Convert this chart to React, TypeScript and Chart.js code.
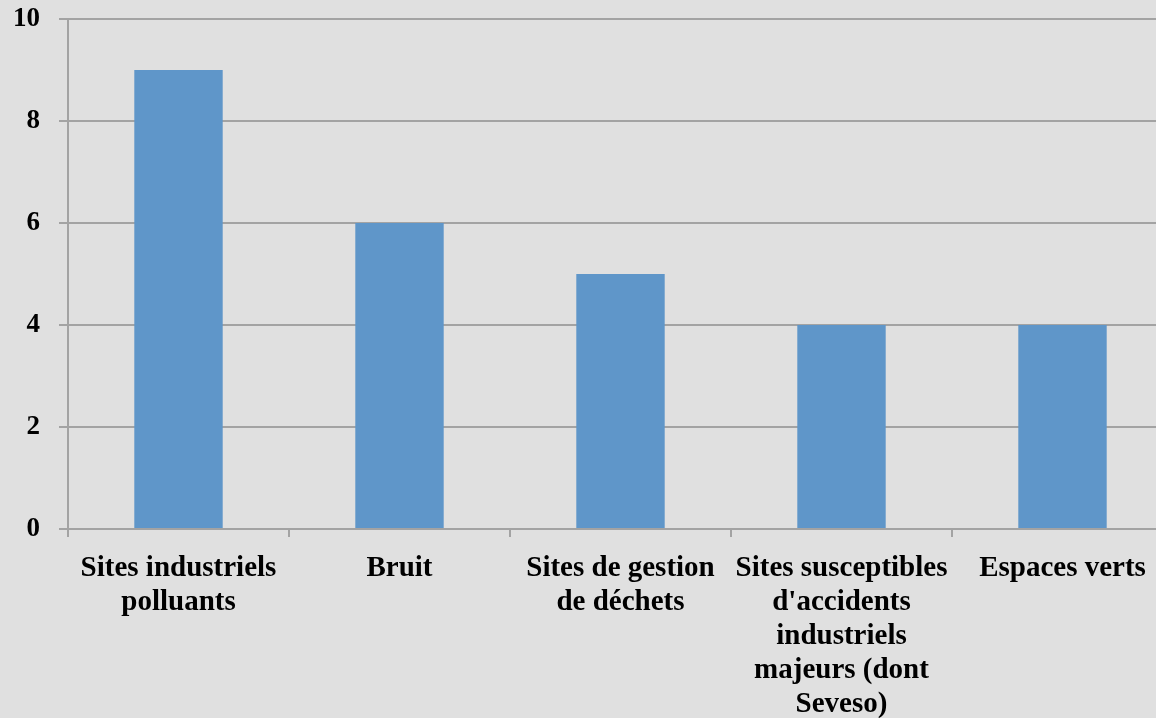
import React, { useEffect, useRef } from "react";
import { Chart, registerables } from "chart.js";

Chart.register(...registerables);

const categories: (string | string[])[] = [
  ["Sites industriels", "polluants"],
  "Bruit",
  ["Sites de gestion", "de déchets"],
  ["Sites susceptibles", "d'accidents", "industriels", "majeurs (dont", "Seveso)"],
  "Espaces verts",
];
const values: number[] = [9, 6, 5, 4, 4];
const yTicks: number[] = [0, 2, 4, 6, 8, 10];

const BG = "#e0e0e0";
const BAR = "#5f96c9";
const GRID = "#a3a3a3";
const FONT = "'Liberation Serif', 'Times New Roman', serif";

export default function App() {
  const ref = useRef<HTMLCanvasElement | null>(null);

  useEffect(() => {
    if (!ref.current) return;
    const chart = new Chart(ref.current, {
      type: "bar",
      data: {
        labels: categories,
        datasets: [
          {
            data: values,
            backgroundColor: BAR,
            borderWidth: 0,
            barPercentage: 0.4,
            categoryPercentage: 1,
          },
        ],
      },
      options: {
        animation: false,
        responsive: true,
        maintainAspectRatio: false,
        layout: { padding: { top: 19, left: 0, right: 0, bottom: 0 } },
        plugins: {
          legend: { display: false },
          tooltip: { enabled: false },
        },
        scales: {
          x: {
            grid: {
              offset: true,
              drawOnChartArea: false,
              drawTicks: true,
              tickLength: 8,
              color: GRID,
              lineWidth: 2,
            },
            border: { display: true, color: GRID, width: 2 },
            ticks: {
              color: "#000",
              font: { family: FONT, size: 29, weight: "bold", lineHeight: 1.17 },
              padding: 15,
              maxRotation: 0,
              minRotation: 0,
              autoSkip: false,
            },
            afterFit: (s: any) => {
              s.height = 189;
              s.paddingLeft = 0;
              s.paddingRight = 0;
            },
          },
          y: {
            min: 0,
            max: 10,
            afterBuildTicks: (s: any) => {
              s.ticks = yTicks.map((v) => ({ value: v }));
            },
            grid: {
              color: GRID,
              lineWidth: 2,
              tickLength: 9,
              drawTicks: true,
            },
            border: { display: true, color: GRID, width: 2 },
            ticks: {
              color: "#000",
              font: { family: FONT, size: 27, weight: "bold" },
              padding: 19,
            },
            afterFit: (s: any) => {
              s.width = 68;
              s.paddingTop = 0;
              s.paddingBottom = 0;
            },
          },
        },
      },
    });
    return () => chart.destroy();
  }, []);

  return (
    <div
      style={{
        position: "fixed",
        left: 0,
        top: 0,
        width: 1156,
        height: 718,
        overflow: "hidden",
        background: BG,
      }}
    >
      <div style={{ position: "absolute", left: 0, top: 0, width: 1173, height: 718 }}>
        <canvas ref={ref} />
      </div>
    </div>
  );
}
